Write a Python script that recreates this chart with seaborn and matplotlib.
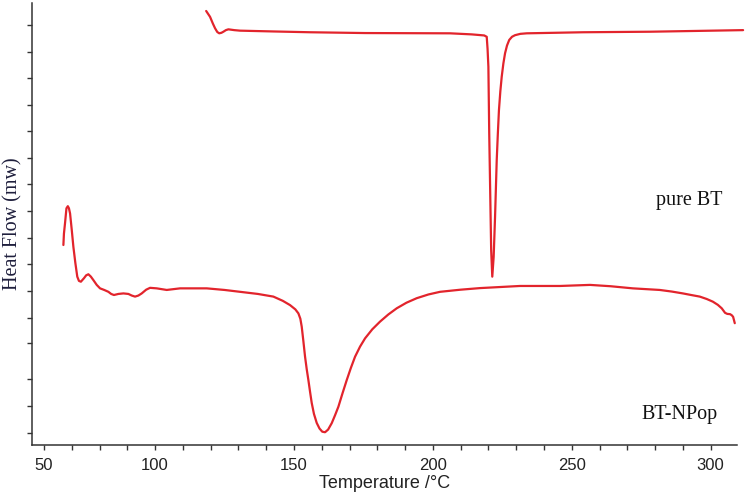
"""
DSC thermogram: pure BT vs BT-NPop (heat flow vs temperature).
"""
import pandas as pd
import matplotlib
matplotlib.use("Agg")
import matplotlib.pyplot as plt
import seaborn as sns

# ── data (temperature in °C, heat flow in arbitrary mW) ──
npop_temp = [67.0, 67.2, 67.6, 68.1, 68.6, 69.0, 69.4, 70.0, 70.6, 71.3, 72.0, 72.6,
             73.3, 73.8, 74.4, 75.2, 76.0, 76.9, 77.8, 79.0, 80.2, 81.7, 83.2, 84.2,
             85.2, 86.8, 88.6, 89.5, 90.4, 91.6, 92.8, 94.0, 95.2, 96.8, 98.2, 100.6,
             104.2, 109.0, 118.6, 125.0, 130.6, 137.0, 142.6, 146.0, 148.6, 150.5,
             151.6, 152.3, 152.8, 153.4, 154.0, 154.6, 155.2, 155.8, 156.4, 157.2,
             158.2, 159.2, 160.2, 161.2, 162.3, 163.6, 164.8, 166.0, 167.5, 169.0,
             170.5, 172.0, 173.8, 175.6, 178.2, 181.0, 184.0, 187.0, 190.5, 194.2,
             198.4, 202.6, 210.0, 217.0, 231.4, 245.8, 256.6, 264.0, 272.0, 281.7,
             286.0, 290.0, 293.0, 296.1, 298.6, 300.8, 302.6, 304.0, 305.2, 306.0,
             307.0, 307.6, 308.1, 308.4, 308.7]
npop_flow = [7.52, 7.95, 8.35, 8.90, 8.98, 8.90, 8.71, 8.10, 7.45, 6.85, 6.33, 6.17,
             6.14, 6.20, 6.27, 6.38, 6.42, 6.33, 6.20, 6.02, 5.89, 5.83, 5.76, 5.68,
             5.64, 5.68, 5.70, 5.69, 5.68, 5.62, 5.58, 5.62, 5.70, 5.84, 5.91, 5.89,
             5.83, 5.89, 5.89, 5.83, 5.76, 5.68, 5.58, 5.42, 5.26, 5.10,
             4.95, 4.75, 4.45, 3.90, 3.32, 2.85, 2.44, 2.00, 1.58, 1.17,
             0.83, 0.62, 0.50, 0.48, 0.58, 0.82, 1.12, 1.44, 1.95, 2.44,
             2.90, 3.32, 3.70, 4.01, 4.35, 4.64, 4.91, 5.14, 5.35, 5.52,
             5.66, 5.76, 5.84, 5.90, 5.98, 5.98, 6.02, 5.97, 5.89, 5.83,
             5.77, 5.70, 5.64, 5.58, 5.49, 5.39, 5.27, 5.14, 4.97, 4.93,
             4.92, 4.88, 4.82, 4.70, 4.58]

bt_temp = [118.4, 119.8, 120.8, 121.6, 122.4, 123.1, 123.9, 124.6, 125.5, 126.4,
           128.5, 130.6, 142.6, 155.8, 175.6, 206.2, 214.0, 218.5, 219.4, 219.7,
           220.0, 220.3, 220.7, 221.0, 221.4, 221.9, 222.4, 223.0, 223.4, 223.8,
           224.3, 224.8, 225.4, 226.0, 226.7, 227.5, 228.5, 229.6, 231.5, 233.8,
           254.1, 278.2, 311.7]
bt_flow = [16.32, 16.10, 15.85, 15.67, 15.53, 15.48, 15.50, 15.54, 15.60, 15.63,
           15.60, 15.58, 15.55, 15.52, 15.49, 15.48, 15.44, 15.40, 15.35, 14.90,
           14.22, 11.73, 9.21, 7.33, 6.33, 7.08, 8.58, 10.71, 11.70, 12.59,
           13.30, 13.85, 14.35, 14.73, 15.02, 15.23, 15.35, 15.41, 15.46, 15.48,
           15.52, 15.54, 15.60]

x_tick_pos = [60, 100, 150, 200, 250, 300]
x_tick_labels = ["50", "100", "150", "200", "250", "300"]
x_minor_pos = [70, 80, 90, 110, 120, 130, 140, 160, 170, 180, 190,
               210, 220, 230, 240, 260, 270, 280, 290]
y_tick_pos = [0.44, 1.47, 2.48, 3.82, 4.79, 5.79, 6.79, 7.79, 8.81, 9.80,
              10.80, 11.80, 12.78, 13.79, 14.79, 15.79]

LINE_COLOR = "#e2242c"
SERIF = ["Liberation Serif", "DejaVu Serif"]

sns.set_style("ticks")
plt.rcParams["font.family"] = ["Liberation Sans", "DejaVu Sans"]

df = pd.concat([
    pd.DataFrame({"temp": bt_temp, "flow": bt_flow, "sample": "pure BT"}),
    pd.DataFrame({"temp": npop_temp, "flow": npop_flow, "sample": "BT-NPop"}),
])

fig = plt.figure(figsize=(7.47, 4.95), dpi=100)
ax = fig.add_axes([32 / 747, 50 / 495, 705 / 747, 442 / 495])

sns.lineplot(data=df, x="temp", y="flow", units="sample", estimator=None,
             sort=False, color=LINE_COLOR, linewidth=1.6, ax=ax, clip_on=False)

ax.set_xlim(55.7, 309.5)
ax.set_ylim(0, 16.62)
ax.set_xticks(x_tick_pos)
ax.set_xticklabels(x_tick_labels, fontsize=12, color="#222222")
ax.set_xticks(x_minor_pos, minor=True)
ax.set_yticks(y_tick_pos)
ax.set_yticklabels([])

ax.tick_params(axis="both", which="both", direction="out", length=3.5,
               width=1.0, color="#333333")
ax.tick_params(axis="x", which="major", pad=6)
ax.spines[["top", "right"]].set_visible(False)
for side in ["left", "bottom"]:
    ax.spines[side].set_color("#333333")
    ax.spines[side].set_linewidth(1.1)

ax.set_xlabel("Temperature /°C", fontsize=13, color="#222222", labelpad=1)
ax.set_ylabel("Heat Flow (mw)", fontsize=14.5, color="#1e1e3c", family=SERIF,
              va="center")
ax.yaxis.set_label_coords(-19 / 705, 0.5)

ax.text(0.980, 0.553, "pure BT", transform=ax.transAxes, ha="right", va="center",
        fontsize=14.5, color="#111111", family=SERIF)
ax.text(0.973, 0.068, "BT-NPop", transform=ax.transAxes, ha="right", va="center",
        fontsize=14.5, color="#111111", family=SERIF)

fig.savefig("out.png", dpi=100)
plt.close(fig)
